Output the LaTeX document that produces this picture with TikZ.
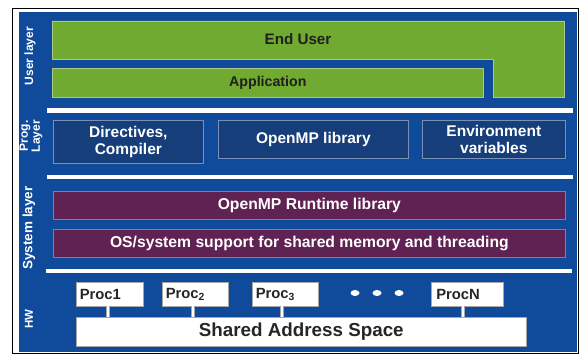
\documentclass[tikz,border=0pt]{standalone}
\usepackage{fontspec}
\setmainfont{Liberation Sans}
\begin{document}
\begin{tikzpicture}[x=1pt,y=-1pt,
  greenbox/.style={fill=usergreen,draw=greenedge,line width=0.6pt},
  progbox/.style={fill=progblue,draw=progedge,line width=0.7pt,text=white,font=\bfseries\fontsize{15.5}{17.5}\selectfont,align=center,inner sep=0pt,anchor=north west},
  sysbox/.style={fill=syspurple,draw=sysedge,line width=0.7pt,text=white,font=\bfseries\fontsize{15.7}{17}\selectfont,inner sep=0pt,anchor=north west},
  procbox/.style={fill=white,draw=gray!70,line width=0.6pt,text=black!85,font=\bfseries\fontsize{14.8}{16}\selectfont,inner sep=0pt,anchor=north west,minimum width=67pt,minimum height=24pt},
  sepbar/.style={fill=white},
  layerlabel/.style={text=white,font=\bfseries\fontsize{12}{12}\selectfont,rotate=90,align=center},
  link/.style={draw=white,line width=2pt},
  linkedge/.style={draw=gray!70,line width=3.4pt},
]
\definecolor{hwblue}{RGB}{16,74,154}
\definecolor{usergreen}{RGB}{112,170,48}
\definecolor{greenedge}{RGB}{170,200,140}
\definecolor{progblue}{RGB}{22,62,122}
\definecolor{progedge}{RGB}{120,145,185}
\definecolor{syspurple}{RGB}{96,34,82}
\definecolor{sysedge}{RGB}{160,110,150}
\useasboundingbox (0,0) rectangle (587,355);
\fill[white] (0,0) rectangle (587,355);
% outer frame
\draw[black,line width=1pt] (12.5,8.5) rectangle (578.5,354);
\fill[hwblue] (19,12) rectangle (577,352);
% user layer
\path[greenbox] (52,21) -- (564,21) -- (564,97) -- (493,97) -- (493,59) -- (52,59) -- cycle;
\node[font=\bfseries\fontsize{15.2}{17}\selectfont,text=black!88] (enduser) at (298,39) {End User};
\node[greenbox,inner sep=0pt,anchor=north west,minimum width=431pt,minimum height=29pt,font=\bfseries\fontsize{14.2}{16}\selectfont,text=black!88] (app) at (52,68) {Application};
% separators
\fill[sepbar] (47,108) rectangle (573,113);
\fill[sepbar] (47,175) rectangle (573,179.5);
\fill[sepbar] (46,269) rectangle (572,273.5);
% prog layer
\node[progbox,minimum width=150pt,minimum height=43pt] (dir) at (53,120) {Directives,\\Compiler};
\node[progbox,minimum width=190pt,minimum height=38pt] (lib) at (218,120) {OpenMP library};
\node[progbox,minimum width=143pt,minimum height=38pt] (env) at (422,120) {Environment\\variables};
% system layer
\node[sysbox,minimum width=512pt,minimum height=28pt] (rt) at (53,191) {OpenMP Runtime library};
\node[sysbox,minimum width=512pt,minimum height=28pt] (os) at (53,229) {OS/system support for shared memory and threading};
% hw
\node[procbox,minimum width=450pt,minimum height=29pt,font=\bfseries\fontsize{18.8}{20}\selectfont] (sas) at (76,317) {Shared Address Space};
\node[procbox,align=left,text width=60pt] (p1) at (76,282) {Proc1};
\node[procbox,align=left,text width=59pt,minimum width=66pt] (p2) at (162,282) {Proc\textsubscript{2}};
\node[procbox,align=left,text width=59pt,minimum width=66pt] (p3) at (252,282) {Proc\textsubscript{3}};
\node[procbox,align=left,text width=62pt,minimum width=72pt] (pn) at (431,282) {ProcN};
\coordinate (c1) at (108,306);
\coordinate (c2) at (193,306);
\coordinate (c3) at (282,306);
\coordinate (cn) at (463,306);
\draw[linkedge] (c1) -- (c1 |- sas.north) (c2) -- (c2 |- sas.north) (c3) -- (c3 |- sas.north) (cn) -- (cn |- sas.north);
\draw[link] (c1) -- (c1 |- sas.north) (c2) -- (c2 |- sas.north) (c3) -- (c3 |- sas.north) (cn) -- (cn |- sas.north);
\fill[white] (355,293) ellipse (4.5pt and 3pt) (377,293) ellipse (4.5pt and 3pt) (399,293) ellipse (4.5pt and 3pt);
% labels
\node[layerlabel] (lu) at (30,56) {User layer};
\node[layerlabel,font=\bfseries\fontsize{12}{12}\selectfont] (lp) at (31,136) {Prog.\\Layer};
\node[layerlabel,font=\bfseries\fontsize{13.5}{14}\selectfont] (ls) at (29,228) {System layer};
\node[layerlabel,font=\bfseries\fontsize{11.5}{12}\selectfont] (lh) at (29,319) {HW};
\end{tikzpicture}
\end{document}
